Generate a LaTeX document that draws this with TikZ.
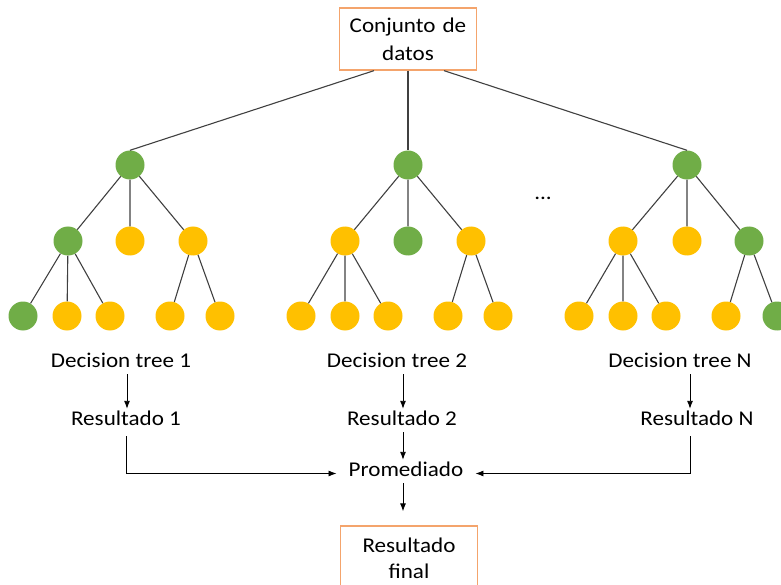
\documentclass[tikz,border=0pt]{standalone}
\usepackage{fontspec}
\setmainfont{Carlito}[FakeStretch=1.1]
\usetikzlibrary{positioning, calc, arrows.meta}
\definecolor{splitgreen}{HTML}{70AD47}
\definecolor{leafyellow}{HTML}{FFC000}
\definecolor{boxorange}{HTML}{F4A46C}
\tikzset{split/.style={circle, fill=splitgreen, minimum size=29pt, inner sep=0pt}}
\tikzset{leaf/.style={circle, fill=leafyellow, minimum size=29pt, inner sep=0pt}}
\tikzset{branch/.style={draw=black!75, line width=1.1pt}}
\tikzset{txt/.style={font=\fontsize{21}{27}\selectfont, text height=13pt, text depth=4pt, inner sep=3pt}}
\tikzset{databox/.style={draw=boxorange, line width=1.3pt, align=center, minimum width=137pt, text width=130pt, inner sep=0pt}}
\tikzset{flow/.style={-{Latex[length=8pt, width=6pt]}, line width=0.9pt}}

\begin{document}
\begin{tikzpicture}[x=1pt, y=-1pt]
      \useasboundingbox (0,0) rectangle (781,585);

      \node[databox, minimum height=62pt, font=\fontsize{21}{28}\selectfont] (data) at (408,39) {Conjunto de\\datos};

      % tree 1
      \node[split] (r1) at (130,165) {};
      \node[split] (a1) at (68,241) {};
      \node[leaf] (b1) at (130,241) {};
      \node[leaf] (c1) at (193,241) {};
      \node[split] (a1x) at (23,316) {};
      \node[leaf] (a1y) at (67,316) {};
      \node[leaf] (a1z) at (110,316) {};
      \node[leaf] (c1x) at (170,316) {};
      \node[leaf] (c1y) at (220,316) {};

      % tree 2
      \node[split] (r2) at (408,165) {};
      \node[leaf] (a2) at (345,241) {};
      \node[split] (b2) at (408,241) {};
      \node[leaf] (c2) at (471,241) {};
      \node[leaf] (a2x) at (301,316) {};
      \node[leaf] (a2y) at (345,316) {};
      \node[leaf] (a2z) at (388,316) {};
      \node[leaf] (c2x) at (448,316) {};
      \node[leaf] (c2y) at (498,316) {};

      \node[txt] (dots) at (543,195) {...};

      % tree N
      \node[split] (r3) at (687,165) {};
      \node[leaf] (a3) at (623,241) {};
      \node[leaf] (b3) at (687,241) {};
      \node[split] (c3) at (749,241) {};
      \node[leaf] (a3x) at (579,316) {};
      \node[leaf] (a3y) at (623,316) {};
      \node[leaf] (a3z) at (666,316) {};
      \node[leaf] (c3x) at (726,316) {};
      \node[split] (c3y) at (777,316) {};

      \draw[branch] ([xshift=-34pt]data.south) -- (r1.north);
      \draw[branch] (data.south) -- (r2.north);
      \draw[branch] ([xshift=36pt]data.south) -- (r3.north);

      \foreach \t in {1,2,3} {
        \draw[branch] (r\t) -- (a\t) (r\t) -- (b\t) (r\t) -- (c\t);
        \draw[branch] (a\t) -- (a\t x) (a\t) -- (a\t y) (a\t) -- (a\t z);
        \draw[branch] (c\t) -- (c\t x) (c\t) -- (c\t y);
      }

      % results of each tree
      \node[txt] (d1) at (121,362.5) {Decision tree 1};
      \node[txt] (res1) at (126,420.5) {Resultado 1};
      \node[txt] (d2) at (397,362.5) {Decision tree 2};
      \node[txt] (res2) at (402,420.5) {Resultado 2};
      \node[txt] (d3) at (680,362.5) {Decision tree N};
      \node[txt] (res3) at (697,420.5) {Resultado N};

      \node[txt, inner xsep=12pt] (avg) at (406,471.5) {Promediado};
      \node[databox, minimum height=64pt, font=\fontsize{21}{26}\selectfont] (final) at (409,558) {Resultado\\final};

      \draw[flow] ([xshift=6pt]d1.south) -- ([xshift=1pt]res1.north);
      \draw[flow] ([xshift=6pt]d2.south) -- ([xshift=1pt]res2.north);
      \draw[flow] ([xshift=10pt]d3.south) -- ([xshift=-7pt]res3.north);

      \draw[flow] ([yshift=-4pt]res1.south) |- ([yshift=-2pt]avg.west);
      \draw[flow] ([xshift=-7pt, yshift=-4pt]res3.south) |- ([yshift=-2pt]avg.east);
      \draw[flow] ([xshift=1pt]res2.south) -- ([xshift=-3pt]avg.north);
      \draw[flow, shorten >=14pt] ([xshift=-3pt]avg.south) -- ([xshift=-6pt]final.north);

\end{tikzpicture}
\end{document}
